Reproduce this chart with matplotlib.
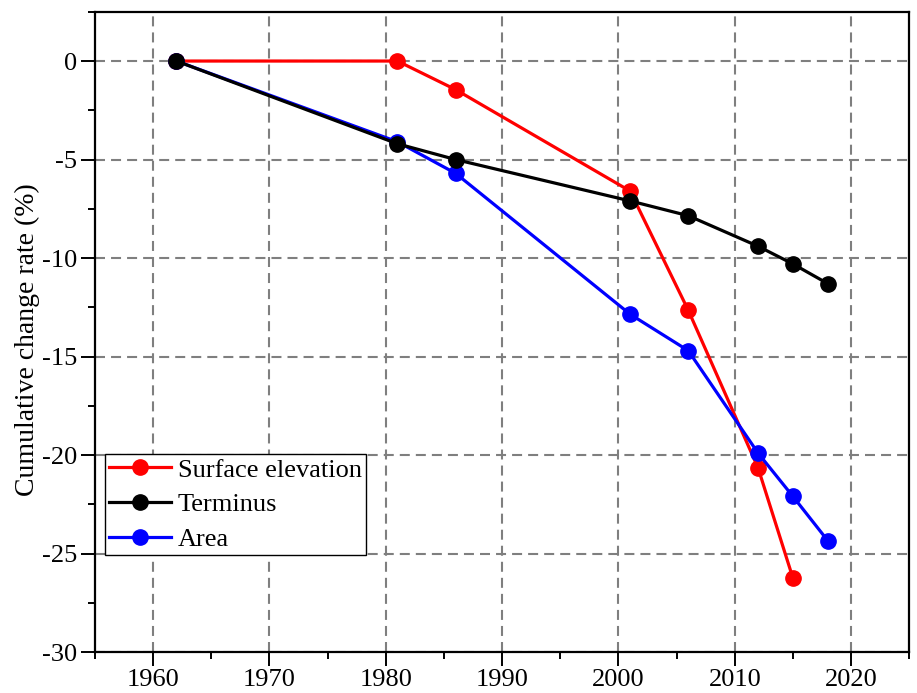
import matplotlib
matplotlib.use("Agg")
import matplotlib.pyplot as plt
from matplotlib.ticker import MultipleLocator

plt.rcParams['font.family'] = ['Liberation Serif', 'DejaVu Serif']
plt.rcParams['axes.unicode_minus'] = False

# Cumulative change rate (%) per survey year
elev_years = [1962, 1981, 1986, 2001, 2006, 2012, 2015]
elev_vals = [0, 0, -1.45, -6.6, -12.65, -20.65, -26.25]

term_years = [1962, 1981, 1986, 2001, 2006, 2012, 2015, 2018]
term_vals = [0, -4.2, -5.0, -7.1, -7.85, -9.4, -10.3, -11.3]

area_years = [1962, 1981, 1986, 2001, 2006, 2012, 2015, 2018]
area_vals = [0, -4.1, -5.7, -12.85, -14.7, -19.9, -22.1, -24.35]

fig = plt.figure(figsize=(9.17, 6.93), dpi=100)
ax = fig.add_axes([0.1036, 0.059, 0.888, 0.924])

lw, ms = 2.3, 11
ax.plot(elev_years, elev_vals, '-o', color='#ff0000', lw=lw, ms=ms,
        label='Surface elevation', zorder=3)
ax.plot(area_years, area_vals, '-o', color='#0000ff', lw=lw, ms=ms,
        label='Area', zorder=4)
ax.plot(term_years, term_vals, '-o', color='#000000', lw=lw, ms=ms,
        label='Terminus', zorder=5)

ax.set_xlim(1955, 2025)
ax.set_ylim(-30, 2.5)
ax.xaxis.set_major_locator(MultipleLocator(10))
ax.xaxis.set_minor_locator(MultipleLocator(5))
ax.yaxis.set_major_locator(MultipleLocator(5))
ax.yaxis.set_minor_locator(MultipleLocator(2.5))

ax.grid(True, which='major', color='#7f7f7f', linestyle=(0, (4.8, 2.9)), lw=1.5)
ax.set_axisbelow(True)

for s in ax.spines.values():
    s.set_linewidth(1.6)

ax.tick_params(which='major', direction='out', length=10, width=1.4,
               labelsize=19)
ax.tick_params(which='minor', direction='out', length=5, width=1.4)
ax.tick_params(axis='x', which='major', pad=2)
ax.tick_params(axis='y', which='major', pad=3)

ax.set_ylabel('Cumulative change rate (%)', fontsize=20)
ax.yaxis.set_label_coords(-0.067, 0.4875)

handles, labels = ax.get_legend_handles_labels()
order = [0, 2, 1]
leg = ax.legend([handles[i] for i in order], [labels[i] for i in order],
                loc='lower left', bbox_to_anchor=(0.012, 0.152),
                fontsize=19, frameon=True, fancybox=False, framealpha=1,
                edgecolor='black', borderpad=0.15, handlelength=2.35,
                handletextpad=0.27, labelspacing=0.42, borderaxespad=0)
leg.get_frame().set_linewidth(1.0)

fig.savefig('out.png', dpi=100)
